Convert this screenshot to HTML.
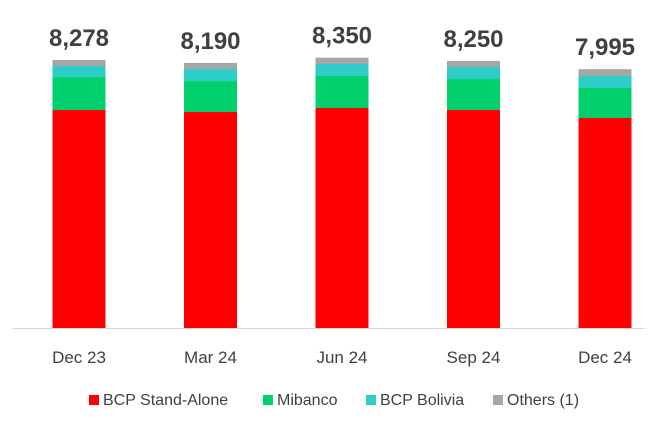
<!DOCTYPE html>
<html><head><meta charset="utf-8"><style>
body{margin:0;background:#fff;font-family:"Liberation Sans",sans-serif}
</style></head><body>
<svg id="c" width="655" height="420" xmlns="http://www.w3.org/2000/svg"></svg>
<script>
const categories=["Dec 23","Mar 24","Jun 24","Sep 24","Dec 24"];
const bcp=[6733,6671,6795,6733,6486];
const mibanco=[1019,957,988,957,927];
const bolivia=[340,371,371,371,371];
const others=[186,191,196,189,211];
const totals=["8,278","8,190","8,350","8,250","7,995"];
const seriesNames=["BCP Stand-Alone","Mibanco","BCP Bolivia","Others (1)"];
const colors=["#ff0000","#00d06c","#2ecdc8","#a6a6a6"];
const svg=document.getElementById('c');const NS="http://www.w3.org/2000/svg";
const base=328,scale=268/8278;
const y=v=>base-v*scale;
const x=i=>79+i*131.5;
function mk(t,a){const e=document.createElementNS(NS,t);for(const k in a)e.setAttribute(k,a[k]);svg.appendChild(e);return e;}
const series=[bcp,mibanco,bolivia,others];
categories.forEach((c,i)=>{
 let acc=0;
 series.forEach((s,j)=>{
  const r=mk('rect',{x:x(i)-26.5,y:y(acc+s[i]),width:53,height:s[i]*scale,fill:colors[j]});
  
  
  acc+=s[i];
 });
 const t=mk('text',{x:x(i),y:y(acc)-14,'text-anchor':'middle','font-size':'24','font-weight':'bold',fill:'#404040'});
 t.textContent=totals[i];
 
 
 const l=mk('text',{x:x(i),y:363,'text-anchor':'middle','font-size':'17',fill:'#404040'});
 l.textContent=c;
 
 
});
const ax=mk('line',{x1:12,x2:645,y1:base+0.5,y2:base+0.5,stroke:'#d9d9d9','stroke-width':1});


const lx=[89,263,366,493];
seriesNames.forEach((n,j)=>{
 const r=mk('rect',{x:lx[j],y:395,width:10,height:10,fill:colors[j]});
 
 
 const t=mk('text',{x:lx[j]+14,y:405,'font-size':'16',fill:'#404040'});
 t.textContent=n;
 
 
});
</script>
</body></html>
